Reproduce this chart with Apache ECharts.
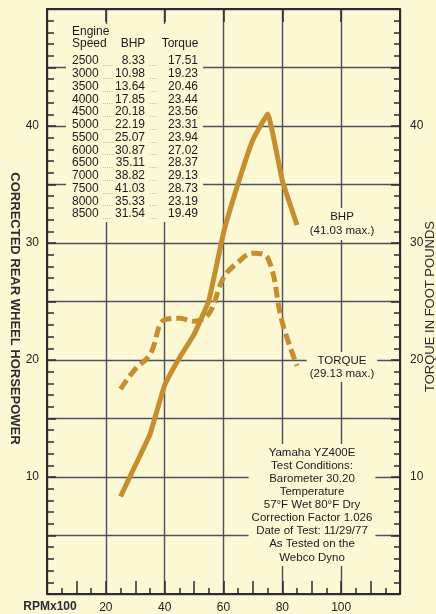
<!DOCTYPE html>
<html><head><meta charset="utf-8">
<script src="https://cdn.jsdelivr.net/npm/echarts@6/dist/echarts.min.js"></script>
<style>html,body{margin:0;padding:0;background:#fbf8d3}#c{width:436px;height:614px}</style>
</head><body><div id="c"></div>
<script>
// ---- data ----
const engineSpeed = [2500,3000,3500,4000,4500,5000,5500,6000,6500,7000,7500,8000,8500];
const bhp    = [8.33,10.98,13.64,17.85,20.18,22.19,25.07,30.87,35.11,38.82,41.03,35.33,31.54];
const torque = [17.51,19.23,20.46,23.44,23.56,23.31,23.94,27.02,28.37,29.13,28.73,23.19,19.49];
const xTickLabels = [20,40,60,80,100];
const yTickLabels = [10,20,30,40];
const testNotes = ['Yamaha YZ400E','Test Conditions:','Barometer 30.20','Temperature','57°F Wet 80°F Dry','Correction Factor 1.026','Date of Test: 11/29/77','As Tested on the','Webco Dyno'];

const BG = '#fbf8d3', INK = '#2b2b36', GRID = '#4e4e62', CURVE = '#c68e2e';
const FONT = 'Liberation Sans, Arial, sans-serif';

const chart = echarts.init(document.getElementById('c'), null, {renderer:'canvas'});

const gridL = 47, gridT = 9, gridR = 36, gridB = 20;

// table text
const tbl = [];
tbl.push({type:'rect', z:1, shape:{x:66,y:24,width:137,height:198}, style:{fill:BG}});
const ts = (x,y,text,align,extra) => Object.assign({type:'text', z:3, x:x, y:y,
  style:{text:text, fill:'#1a1a1e', font:'12px '+FONT, align:align, verticalAlign:'middle', textAlign:align, textVerticalAlign:'middle'}}, extra||{});
tbl.push(ts(72,32,'Engine','left'));
tbl.push(ts(72,44,'Speed','left'));
tbl.push(ts(133,44,'BHP','center'));
tbl.push(ts(180,44,'Torque','center'));
engineSpeed.forEach((s,i)=>{
  const y = 61 + i*12.75;
  tbl.push(ts(72,y,String(s),'left'));
  tbl.push(ts(145,y,bhp[i].toFixed(2),'right'));
  tbl.push(ts(198,y,torque[i].toFixed(2),'right'));
  tbl.push({type:'text', z:3, x:102, y:y+3, style:{text:'.....', fill:'#9a9080', font:'8px '+FONT, align:'left', verticalAlign:'middle'}});
  tbl.push({type:'text', z:3, x:149, y:y+3, style:{text:'....', fill:'#9a9080', font:'8px '+FONT, align:'left', verticalAlign:'middle'}});
});

const maxB = Math.max(...bhp).toFixed(2), maxT = Math.max(...torque).toFixed(2);
const boxText = (x,y,text,lh) => ({type:'text', z:3, x:x, y:y,
  style:{text:text, fill:'#1a1a1e', font:'11.5px '+FONT, lineHeight:lh, align:'center', verticalAlign:'middle',
  textAlign:'center', textVerticalAlign:'middle', backgroundColor:BG, padding:[2,3]}});

const graphics = tbl.concat([
  boxText(342,224,'BHP\n('+maxB+' max.)',14),
  boxText(342,367,'TORQUE\n('+maxT+' max.)',13),
  boxText(312,505,testNotes.join('\n'),13.1),
  {type:'text', z:3, x:50, y:607, style:{text:'RPMx100', fill:INK, font:'bold 12px '+FONT, align:'center', verticalAlign:'middle', textAlign:'center', textVerticalAlign:'middle'}}
]);

const yFmt = v => yTickLabels.indexOf(v) >= 0 ? String(v) : '';
const xFmt = v => xTickLabels.indexOf(v) >= 0 ? String(v) : '';

const axisLine = {show:true, onZero:false, lineStyle:{color:INK, width:2}};
const tickAxisX = (pos, interval, len) => ({type:'value', position:pos, min:0, max:120, interval:interval,
  axisLine:{show:false, onZero:false}, axisTick:{show:true, inside:true, length:len, lineStyle:{color:INK, width:1.5}},
  splitLine:{show:false}, axisLabel:{show:false}});
const tickAxisY = (pos, interval, len) => ({type:'value', position:pos, min:0, max:50, interval:interval,
  axisLine:{show:false, onZero:false}, axisTick:{show:true, inside:true, length:len, lineStyle:{color:INK, width:1.5}},
  splitLine:{show:false}, axisLabel:{show:false}});

const option = {
  backgroundColor: BG,
  animation: false,
  grid: {left:gridL, top:gridT, right:gridR, bottom:gridB, containLabel:false, outerBoundsMode:'none'},
  xAxis: [
    {type:'value', position:'bottom', min:0, max:120, interval:20,
     axisLine:axisLine,
     axisTick:{show:true, inside:true, length:13, lineStyle:{color:INK, width:1.5}},
     splitLine:{show:true, lineStyle:{color:GRID, width:1.4}},
     axisLabel:{formatter:xFmt, color:'#222', fontSize:12, fontFamily:FONT, margin:8}},
    tickAxisX('bottom', 10, 13),
    tickAxisX('bottom', 5, 6),
    Object.assign(tickAxisX('top', 20, 13), {axisLine:axisLine})
  ],
  yAxis: [
    {type:'value', position:'left', min:0, max:50, interval:5,
     name:'CORRECTED REAR WHEEL HORSEPOWER', nameLocation:'middle', nameRotate:-90, nameGap:26, nameMoveOverlap:false,
     nameTextStyle:{color:'#2a2a30', fontSize:13, fontWeight:'bold', fontFamily:FONT, padding:[0,0,0,14]},
     axisLine:axisLine,
     axisTick:{show:true, inside:true, length:9, lineStyle:{color:INK, width:1.5}},
     splitLine:{show:true, lineStyle:{color:GRID, width:1.4}},
     axisLabel:{formatter:yFmt, color:'#222', fontSize:12, fontFamily:FONT, margin:8}},
    tickAxisY('left', 1, 7),
    {type:'value', position:'right', min:0, max:50, interval:5,
     name:'TORQUE IN FOOT POUNDS', nameLocation:'middle', nameRotate:90, nameGap:24, nameMoveOverlap:false,
     nameTextStyle:{color:'#2a2a30', fontSize:13, fontFamily:FONT, padding:[0,10,0,0]},
     axisLine:axisLine,
     axisTick:{show:true, inside:true, length:9, lineStyle:{color:INK, width:1.5}},
     splitLine:{show:false},
     axisLabel:{formatter:yFmt, color:'#222', fontSize:12, fontFamily:FONT, margin:10}},
    tickAxisY('right', 1, 6)
  ],
  series: [
    {name:'BHP', type:'line', xAxisIndex:0, yAxisIndex:0, z:2,
     data: engineSpeed.map((s,i)=>[s/100, bhp[i]]),
     showSymbol:false, smooth:0.1,
     lineStyle:{color:CURVE, width:5, cap:'butt', join:'round'}},
    {name:'TORQUE', type:'line', xAxisIndex:0, yAxisIndex:2, z:2,
     data: engineSpeed.map((s,i)=>[s/100, torque[i]]),
     showSymbol:false, smooth:0.4,
     lineStyle:{color:CURVE, width:5, type:[11,5], cap:'butt', join:'round'}}
  ],
  graphic: graphics
};
chart.setOption(option);
</script></body></html>
